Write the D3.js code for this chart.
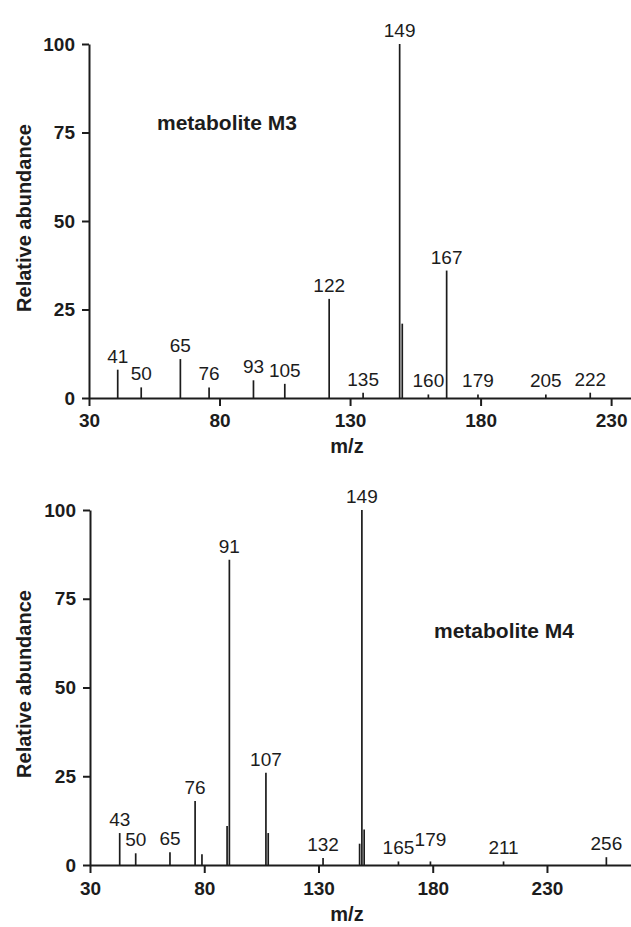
<!DOCTYPE html>
<html>
<head>
<meta charset="utf-8">
<script src="https://cdn.jsdelivr.net/npm/d3@7"></script>
<style>
  html, body { margin: 0; padding: 0; background: #fff; }
  svg { display: block; font-family: "Liberation Sans", Arial, Helvetica, sans-serif; }
</style>
</head>
<body>
<svg id="chart" width="631" height="927"></svg>
<script>
// ---- Data ----
const yTicks = [0, 25, 50, 75, 100];
const xTicks = [30, 80, 130, 180, 230];

// metabolite M3
const m3Mz = [41, 50, 65, 76, 93, 105, 122, 135, 149, 150, 160, 167, 179, 205, 222];
const m3Ab = [8, 3, 11, 3, 5, 4, 28, 1.5, 100, 21, 1, 36, 1, 1, 1.5];
const m3Labels = [41, 50, 65, 76, 93, 105, 122, 135, 149, 160, 167, 179, 205, 222];

// metabolite M4
const m4Mz = [43, 50, 65, 76, 79, 90, 91, 107, 108, 132, 148, 149, 150, 165, 179, 211, 256];
const m4Ab = [9, 3.3, 3.6, 18, 3, 11, 86, 26, 9, 2, 6, 100, 10, 1, 1, 1, 2.2];
const m4Labels = [43, 50, 65, 76, 91, 107, 132, 149, 165, 179, 211, 256];

const ink = "#1c1c1c";
const svg = d3.select("#chart");
const labelSize = 19;

function panel(cfg) {
  const x = d3.scaleLinear().domain(cfg.xDomain).range(cfg.xRange);
  const y = d3.scaleLinear().domain([0, 100]).range(cfg.yRange);
  const g = svg.append("g");

  // peaks
  const peaks = cfg.mz.map((m, i) => ({ mz: m, ab: cfg.ab[i] }));
  g.selectAll("line.peak").data(peaks).join("line")
    .attr("class", "peak")
    .attr("x1", d => x(d.mz)).attr("x2", d => x(d.mz))
    .attr("y1", y(0)).attr("y2", d => y(d.ab))
    .attr("stroke", ink).attr("stroke-width", 1.7);

  // peak labels
  const labels = g.selectAll("text.plabel").data(peaks.filter(d => cfg.labels.includes(d.mz))).join("text")
    .attr("class", "plabel")
    .attr("x", d => x(d.mz)).attr("y", d => y(d.ab) - 7)
    .attr("text-anchor", "middle")
    .attr("font-size", labelSize).attr("fill", ink)
    .text(d => d.mz);

  // nudge a label upward when its digits would touch its left neighbour's
  let prev = null;
  labels.each(function () {
    const w = this.getComputedTextLength();
    const cx = +this.getAttribute("x");
    let base = +this.getAttribute("y");
    const cap = labelSize * 0.72;
    const box = { l: cx - w / 2, r: cx + w / 2, t: base - cap, b: base };
    if (prev && box.l < prev.r + 3 && box.t < prev.b + 2 && box.b > prev.t - 2) {
      base -= 8;
      this.setAttribute("y", base);
      box.t -= 8; box.b -= 8;
    }
    prev = box;
  });

  // axes
  const yAxis = d3.axisLeft(y).tickValues(yTicks).tickSize(7).tickSizeOuter(0).tickPadding(7);
  const gy = g.append("g").attr("transform", `translate(${cfg.xRange[0]},0)`).call(yAxis);
  const xAxis = d3.axisBottom(x).tickValues(xTicks).tickSize(8).tickSizeOuter(0).tickPadding(cfg.xPad);
  const gx = g.append("g").attr("transform", `translate(0,${cfg.yRange[0]})`).call(xAxis);
  [gx, gy].forEach(a => {
    a.selectAll("path.domain").attr("stroke", ink).attr("stroke-width", 2);
    a.selectAll(".tick line").attr("stroke", ink).attr("stroke-width", 2);
    a.selectAll(".tick text").attr("fill", ink).attr("font-size", 19).attr("font-weight", "bold")
      .attr("font-family", "'Liberation Sans', Arial, sans-serif");
  });

  // axis titles
  g.append("text")
    .attr("transform", `translate(${cfg.yTitleX},${cfg.yTitleY}) rotate(-90)`)
    .attr("text-anchor", "middle").attr("font-size", 20).attr("font-weight", "bold").attr("fill", ink)
    .text("Relative abundance");
  g.append("text")
    .attr("x", cfg.xTitleX).attr("y", cfg.xTitleY)
    .attr("text-anchor", "middle").attr("font-size", 20).attr("font-weight", "bold").attr("fill", ink)
    .text("m/z");

  // annotation
  g.append("text")
    .attr("x", cfg.noteX).attr("y", cfg.noteY)
    .attr("font-size", 21).attr("font-weight", "bold").attr("fill", ink)
    .text(cfg.note);
}

panel({
  mz: m3Mz, ab: m3Ab, labels: m3Labels,
  xDomain: [30, 238], xRange: [89, 632], yRange: [398, 44], xPad: 8,
  yTitleX: 31, yTitleY: 218, xTitleX: 347, xTitleY: 453,
  note: "metabolite M3", noteX: 157, noteY: 130
});

panel({
  mz: m4Mz, ab: m4Ab, labels: m4Labels,
  xDomain: [30, 267], xRange: [90, 631.5], yRange: [865, 510], xPad: 9,
  yTitleX: 31, yTitleY: 684, xTitleX: 347, xTitleY: 921,
  note: "metabolite M4", noteX: 434, noteY: 638
});
</script>
</body>
</html>
